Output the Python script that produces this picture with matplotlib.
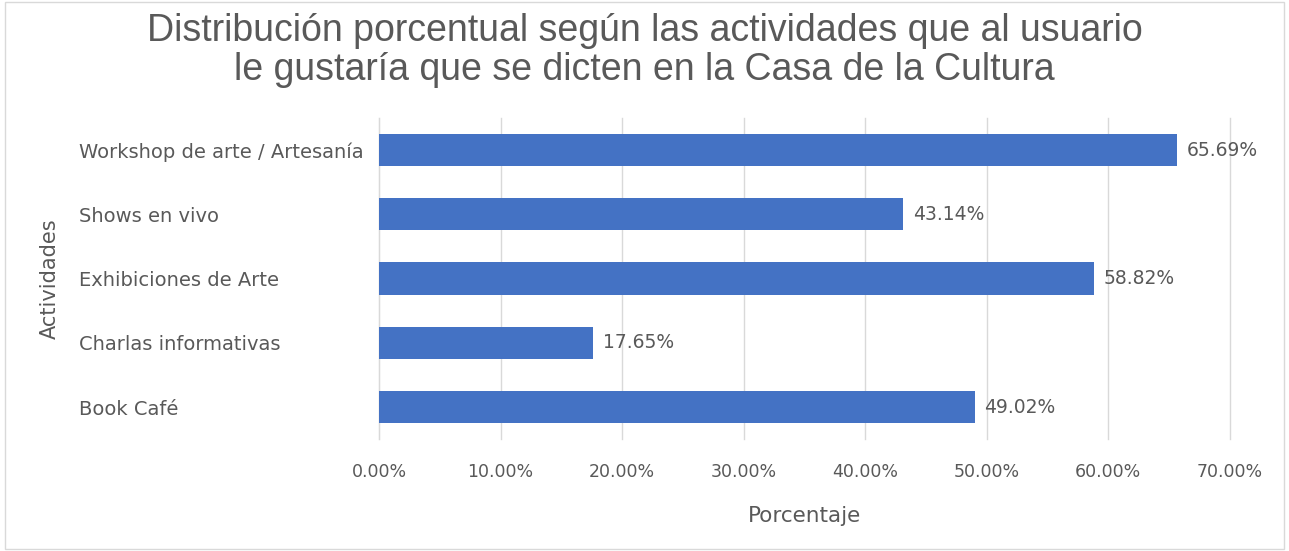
import matplotlib
matplotlib.use("Agg")
from matplotlib import pyplot as plt
from matplotlib.patches import Rectangle

categorias = ["Workshop de arte / Artesanía", "Shows en vivo", "Exhibiciones de Arte",
              "Charlas informativas", "Book Café"]
porcentajes = [65.69, 43.14, 58.82, 17.65, 49.02]
ticks_x = [0, 10, 20, 30, 40, 50, 60, 70]
tick_labels_x = ["0.00%", "10.00%", "20.00%", "30.00%", "40.00%", "50.00%", "60.00%", "70.00%"]

gris = "#595959"
azul = "#4472C4"
fuente = "DejaVu Sans"

fig = plt.figure(figsize=(12.89, 5.51), dpi=100)
ax = fig.add_axes([0.294, 0.203, 0.660, 0.583])

# borde del area del grafico
fig.patches.append(Rectangle((0.004, 0.004), 0.992, 0.992, transform=fig.transFigure,
                             fill=False, edgecolor="#D9D9D9", linewidth=1))

y = list(range(len(categorias)))
ax.barh(y, porcentajes, height=0.5, color=azul, zorder=3)
ax.set_ylim(len(categorias) - 0.5, -0.5)
ax.set_xlim(0, 70)

for yi, v in zip(y, porcentajes):
    ax.text(v + 0.8, yi, "%.2f%%" % v, va="center", ha="left", fontsize=13.5,
            color=gris, family=fuente)

ax.set_xticks(ticks_x)
ax.set_xticklabels(tick_labels_x, fontsize=12.5, color=gris, family=fuente)
ax.set_yticks(y)
ax.set_yticklabels(categorias, fontsize=14, color=gris, family=fuente)
for lbl in ax.get_yticklabels():
    lbl.set_horizontalalignment("left")
ax.tick_params(axis="y", length=0, pad=216)
ax.tick_params(axis="x", length=0, pad=17)

ax.grid(axis="x", color="#D9D9D9", linewidth=1, zorder=0)
for gl in ax.get_xgridlines():
    gl.set_clip_on(False)
for s in ["top", "right", "bottom"]:
    ax.spines[s].set_visible(False)
ax.spines["left"].set_color("#D9D9D9")

ax.set_xlabel("Porcentaje", fontsize=15.5, color=gris, family=fuente, labelpad=18)
ax.set_ylabel("Actividades", fontsize=15, color=gris, family=fuente)
ax.yaxis.set_label_coords(-0.375, 0.5)

fig.text(0.5, 0.909, "Distribución porcentual según las actividades que al usuario\n"
         "le gustaría que se dicten en la Casa de la Cultura",
         ha="center", va="center", fontsize=27, color=gris, family="Liberation Sans",
         linespacing=1.1)

plt.savefig("out.png", dpi=100)
